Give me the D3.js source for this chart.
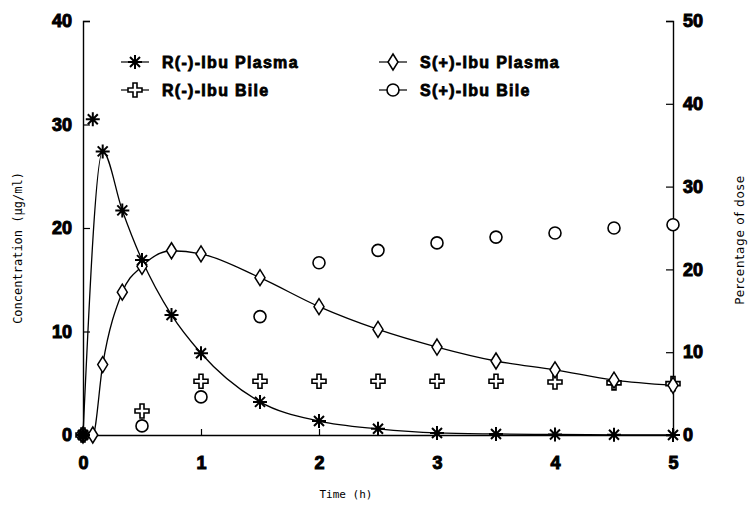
<!DOCTYPE html>
<html>
<head>
<meta charset="utf-8">
<script src="https://cdn.jsdelivr.net/npm/d3@7"></script>
<style>
  body { margin: 0; background: #fff; }
  .tick text { font-family: "Liberation Sans", Arial, sans-serif; font-weight: bold; }
</style>
</head>
<body>
<div id="chart"></div>
<script>
var svgWidth = 752;
var svgHeight = 505;

// sampling times (h)
var times = [0, 0.083, 0.167, 0.333, 0.5, 0.75, 1, 1.5, 2, 2.5, 3, 3.5, 4, 4.5, 5];
// plasma concentrations (ug/ml)
var rPlasma = [0, 30.5, 27.4, 21.7, 16.9, 11.6, 7.9, 3.2, 1.35, 0.6, 0.2, 0.1, 0.05, 0.02, 0];
var sPlasma = [0, 0, 6.8, 13.8, 16.3, 17.8, 17.5, 15.2, 12.4, 10.2, 8.5, 7.15, 6.3, 5.3, 4.8];
// bile, percentage of dose
var bileTimes = [0, 0.5, 1, 1.5, 2, 2.5, 3, 3.5, 4, 4.5, 5];
var rBile = [0, 2.9, 6.5, 6.5, 6.5, 6.5, 6.5, 6.5, 6.4, 6.3, 6.2];
var sBile = [0, 1.1, 4.6, 14.3, 20.8, 22.3, 23.2, 23.9, 24.4, 25.0, 25.4];

var xTicks = [0, 1, 2, 3, 4, 5];
var yLeftTicks = [0, 10, 20, 30, 40];
var yRightTicks = [0, 10, 20, 30, 40, 50];

var svg = d3.select("#chart")
  .append("svg")
  .attr("width", svgWidth)
  .attr("height", svgHeight);

var x = d3.scaleLinear().domain([0, 5]).range([83, 673]);
var yL = d3.scaleLinear().domain([0, 40]).range([435, 21]);
var yR = d3.scaleLinear().domain([0, 50]).range([435, 21]);

// axes
var bottomAxis = d3.axisTop(x).tickValues(xTicks).tickSize(6).tickFormat(d3.format("d"));
var gx = svg.append("g").attr("transform", "translate(0,435)").call(bottomAxis);
gx.selectAll(".tick text").attr("y", 34).attr("dy", 0).style("font-size", "18px");

var leftAxis = d3.axisRight(yL).tickValues(yLeftTicks).tickSize(7);
var gl = svg.append("g").attr("transform", "translate(83,0)").call(leftAxis);
gl.selectAll(".tick text").attr("x", -11).attr("text-anchor", "end").style("font-size", "18px");

var rightAxis = d3.axisLeft(yR).tickValues(yRightTicks).tickSize(7);
var gr = svg.append("g").attr("transform", "translate(673,0)").call(rightAxis);
gr.selectAll(".tick text").attr("x", 10).attr("text-anchor", "start").style("font-size", "18px");

svg.selectAll(".domain").attr("stroke", "#000").attr("stroke-width", 1.4);
svg.selectAll(".tick line").attr("stroke", "#000").attr("stroke-width", 1.2);
svg.selectAll(".tick text").attr("fill", "#000").attr("stroke", "#000").attr("stroke-width", 1);

// axis labels
svg.append("text")
  .attr("transform", "translate(22,248) rotate(-90)")
  .attr("text-anchor", "middle")
  .style("font-family", "DejaVu Sans Mono, monospace")
  .style("font-size", "12px")
  .text("Concentration (\u00b5g/ml)");

svg.append("text")
  .attr("x", 346).attr("y", 498)
  .attr("text-anchor", "middle")
  .style("font-family", "DejaVu Sans Mono, monospace")
  .style("font-size", "11px")
  .text("Time (h)");

svg.append("text")
  .attr("transform", "translate(744,240) rotate(-90)")
  .attr("text-anchor", "middle")
  .style("font-family", "DejaVu Sans, sans-serif")
  .style("font-size", "12px")
  .style("letter-spacing", "0.8px")
  .text("Percentage of dose");

// fitted curves through the plasma points
var rPts = times.map((t, i) => ({t: t, v: rPlasma[i]}));
var sPts = times.map((t, i) => ({t: t, v: sPlasma[i]}));
var rBilePts = bileTimes.map((t, i) => ({t: t, v: rBile[i]}));
var sBilePts = bileTimes.map((t, i) => ({t: t, v: sBile[i]}));

var line = d3.line().x(d => x(d.t)).y(d => yL(d.v)).curve(d3.curveMonotoneX);

svg.append("path")
  .datum(rPts.filter(d => d.t !== 0.083))
  .attr("d", line)
  .attr("fill", "none").attr("stroke", "#000").attr("stroke-width", 1.3);

svg.append("path")
  .datum(sPts)
  .attr("d", line)
  .attr("fill", "none").attr("stroke", "#000").attr("stroke-width", 1.3);

// marker shapes
function asterisk(g) {
  g.append("path")
    .attr("d", "M0,-7V7M-7,0H7M-5,-5L5,5M-5,5L5,-5")
    .attr("stroke", "#000").attr("stroke-width", 2).attr("fill", "none");
}
function diamond(g) {
  g.append("path")
    .attr("d", "M0,-8L5,0L0,8L-5,0Z")
    .attr("stroke", "#000").attr("stroke-width", 1.5).attr("fill", "#fff");
}
function cross(g) {
  g.append("path")
    .attr("d", "M-2,-7H2V-2H7V2H2V7H-2V2H-7V-2H-2Z")
    .attr("stroke", "#000").attr("stroke-width", 1.6).attr("fill", "#fff");
}
function ring(g) {
  g.append("circle").attr("r", 6)
    .attr("stroke", "#000").attr("stroke-width", 1.6).attr("fill", "#fff");
}

function drawPoints(pts, scale, shape) {
  svg.append("g").selectAll("g")
    .data(pts)
    .enter().append("g")
    .attr("transform", d => `translate(${x(d.t)},${scale(d.v)})`)
    .each(function() { shape(d3.select(this)); });
}

drawPoints(sBilePts, yR, ring);
drawPoints(rBilePts, yR, cross);
drawPoints(sPts, yL, diamond);
drawPoints(rPts, yL, asterisk);

// filled blob at origin
svg.append("circle").attr("cx", x(0)).attr("cy", yL(0)).attr("r", 5).attr("fill", "#000");

// legend
var legend = [
  {label: "R(-)-Ibu Plasma", shape: asterisk, x: 135, y: 62},
  {label: "R(-)-Ibu Bile", shape: cross, x: 135, y: 90},
  {label: "S(+)-Ibu Plasma", shape: diamond, x: 393, y: 62},
  {label: "S(+)-Ibu Bile", shape: ring, x: 393, y: 90}
];

legend.forEach(function(d) {
  var g = svg.append("g").attr("transform", `translate(${d.x},${d.y})`);
  g.append("line").attr("x1", -14).attr("x2", 14)
    .attr("stroke", "#000").attr("stroke-width", 1.2);
  d.shape(g);
  g.append("text")
    .attr("x", 27).attr("y", 6)
    .style("font-family", "Liberation Sans, Arial, sans-serif")
    .style("font-weight", "bold")
    .style("font-size", "16px")
    .style("letter-spacing", "1.3px")
    .attr("stroke", "#000").attr("stroke-width", 0.8)
    .text(d.label);
});
</script>
</body>
</html>
